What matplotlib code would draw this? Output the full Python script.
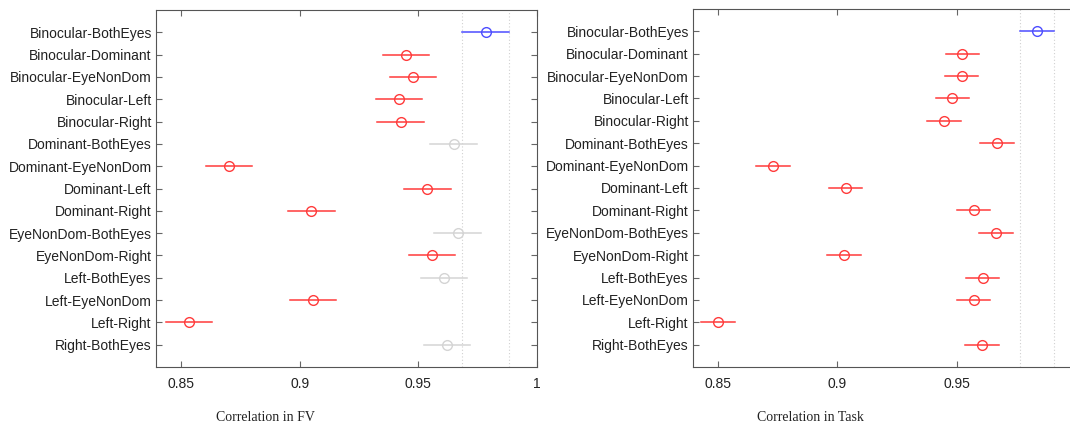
import matplotlib
matplotlib.use("Agg")
import matplotlib.pyplot as plt
import numpy as np

labels = ["Binocular-BothEyes", "Binocular-Dominant", "Binocular-EyeNonDom",
          "Binocular-Left", "Binocular-Right", "Dominant-BothEyes",
          "Dominant-EyeNonDom", "Dominant-Left", "Dominant-Right",
          "EyeNonDom-BothEyes", "EyeNonDom-Right", "Left-BothEyes",
          "Left-EyeNonDom", "Left-Right", "Right-BothEyes"]

fv_mean = [0.9783, 0.9448, 0.9478, 0.9418, 0.9425, 0.9649, 0.8703, 0.9538,
           0.9049, 0.9666, 0.9558, 0.9608, 0.9057, 0.8534, 0.9621]
fv_half = 0.0098
# b = selected group, r = significantly different, g = not different
fv_state = ["b", "r", "r", "r", "r", "g", "r", "r", "r", "g", "r", "g", "r", "r", "g"]

task_mean = [0.9837, 0.9524, 0.9520, 0.9482, 0.9446, 0.9669, 0.8730, 0.9035,
             0.9571, 0.9665, 0.9027, 0.9609, 0.9571, 0.8499, 0.9606]
task_half = 0.0070
task_state = ["b"] + ["r"] * 14

fv_xticks = [0.85, 0.9, 0.95, 1]
fv_xticklabels = ["0.85", "0.9", "0.95", "1"]
task_xticks = [0.85, 0.9, 0.95]
task_xticklabels = ["0.85", "0.9", "0.95"]

colors = {"b": "#4d4dff", "r": "#ff3b3b", "g": "#d4d4d4"}

fig = plt.figure(figsize=(10.7, 4.3), dpi=100)
ax1 = fig.add_axes([0.1458, 0.1465, 0.3561, 0.8302])
ax2 = fig.add_axes([0.6477, 0.1465, 0.3580, 0.8326])


def panel(ax, means, half, state, xt, xtl, xlabel, xlab_x):
    n = len(means)
    ypos = np.arange(1, n + 1)
    sel = means[0]
    ax.axvline(sel - half, color="#d0d0d0", lw=0.8, ls=(0, (1, 2)), zorder=1)
    ax.axvline(sel + half, color="#d0d0d0", lw=0.8, ls=(0, (1, 2)), zorder=1)
    for y, m, s in zip(ypos, means, state):
        c = colors[s]
        ax.plot([m - half, m + half], [y, y], color=c, lw=1.1, zorder=2)
        ax.plot(m, y, "o", ms=7, mfc="none", mec=c, mew=1.0, zorder=3)
    ax.set_ylim(n + 1, 0)
    ax.set_xlim(0.8395, 1.0)
    ax.set_yticks(ypos)
    ax.set_yticklabels(labels, fontsize=10, family="Liberation Sans", color="#222222")
    ax.set_xticks(xt)
    ax.set_xticklabels(xtl, fontsize=10, family="Liberation Sans", color="#222222")
    ax.tick_params(axis="both", direction="in", length=4, width=0.8, color="#666666",
                   top=True, right=True)
    ax.tick_params(axis="y", pad=3)
    ax.tick_params(axis="x", pad=7)
    for sp in ax.spines.values():
        sp.set_color("#555555")
        sp.set_linewidth(0.8)
    fig.text(xlab_x, 0.02, xlabel, fontsize=10, family="Liberation Serif",
             color="#222222", ha="center")


panel(ax1, fv_mean, fv_half, fv_state, fv_xticks, fv_xticklabels,
      "Correlation in FV", 265 / 1070)
panel(ax2, task_mean, task_half, task_state, task_xticks, task_xticklabels,
      "Correlation in Task", 810 / 1070)

fig.savefig("out.png", dpi=100)
